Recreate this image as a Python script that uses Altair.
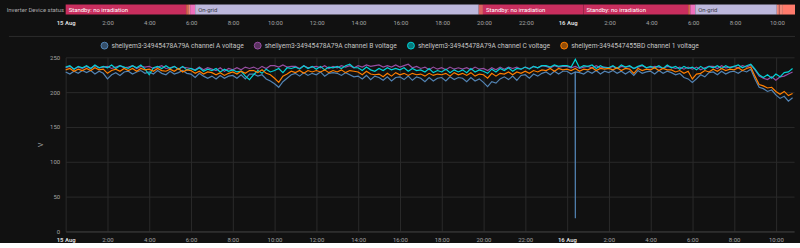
import altair as alt
import pandas as pd

# ---------------- timeline (Inverter Device status) ----------------
seg_start = [0.0, 5.76, 5.86, 5.95, 6.19, 19.75, 19.95, 24.76, 29.76, 29.86, 30.10, 34.00, 34.10, 34.14, 34.29]
seg_end = [5.76, 5.86, 5.95, 6.19, 19.75, 19.95, 24.76, 29.76, 29.86, 30.10, 34.00, 34.10, 34.14, 34.29, 34.87]
seg_state = ["Standby: no irradiation", "s1", "s2", "s3", "On-grid", "s4",
             "Standby: no irradiation", "Standby: no irradiation", "s1", "s3",
             "On-grid", "s2", "s4", "s2", "s5"]
seg_label = ["Standby: no irradiation", "", "", "", "On-grid", "",
             "Standby: no irradiation", "Standby: no irradiation", "", "",
             "On-grid", "", "", "", ""]
state_names = ["Standby: no irradiation", "On-grid", "s1", "s2", "s3", "s4", "s5"]
state_colors = ["#c92e5e", "#bdb8dc", "#d8644e", "#f0897a", "#ee70bd", "#dc6262", "#ff7b6c"]

# ---------------- voltages (every 12 minutes from 15 Aug 00:00) ----------------
volt_a = [
    229, 226, 230, 227, 231,  228, 231, 226, 230, 227,  219, 225, 228, 224, 229,
    230, 226, 229, 231, 227,  229, 226, 231, 227, 225,  230, 226, 228, 231, 227,
    226, 221, 227, 223, 220,  223, 219, 224, 220, 223,  224, 220, 225, 219, 226,
    226, 223, 225, 219, 216,  212, 207, 215, 220, 225,  227, 223, 228, 224, 227,
    225, 229, 223, 227, 228,  227, 224, 228, 225, 222,  223, 219, 224, 218, 223,
    221, 217, 222, 216, 221,  222, 218, 223, 217, 222,  220, 215, 221, 216, 220,
    221, 216, 222, 218, 221,  220, 215, 221, 216, 219,  214, 208, 215, 213, 219,
    222, 218, 223, 217, 224,  225, 220, 226, 223, 227,  229, 225, 230, 226, 230,
    230, 226, 229, 228, 226,  230, 227, 231, 226, 230,  228, 231, 227, 230, 226,
    230, 224, 231, 227, 229,  230, 226, 231, 227, 230,  228, 225, 227, 221, 219,
    214, 219, 225, 222, 228,  229, 225, 230, 226, 229,  230, 227, 231, 229, 233,
    219, 207, 205, 201, 203,  196, 191, 194, 187, 192,
]
# short sensor glitch of channel A just after midnight of 16 Aug
glitch_t = [24.39, 24.40, 24.41]
glitch_v = [229, 19, 229]

volt_b = [
    235, 237, 233, 236, 234,  237, 234, 238, 235, 236,  237, 234, 236, 238, 235,
    236, 238, 234, 237, 236,  237, 234, 236, 238, 234,  235, 237, 233, 236, 235,
    234, 232, 236, 232, 235,  233, 231, 235, 230, 234,  232, 235, 232, 236, 234,
    236, 233, 237, 234, 238,  238, 236, 239, 236, 237,  237, 234, 238, 235, 236,
    237, 235, 238, 234, 237,  235, 238, 236, 238, 235,  238, 236, 239, 237, 238,
    239, 236, 238, 236, 239,  236, 238, 240, 235, 237,  234, 236, 232, 236, 233,
    235, 232, 236, 233, 235,  233, 235, 232, 236, 233,  234, 231, 235, 232, 236,
    233, 236, 234, 236, 233,  236, 234, 237, 235, 238,  237, 235, 238, 236, 237,
    237, 235, 237, 234, 236,  237, 235, 238, 235, 236,  235, 237, 234, 237, 236,
    237, 234, 236, 238, 235,  235, 237, 236, 234, 237,  236, 234, 236, 233, 236,
    233, 236, 232, 235, 237,  237, 234, 238, 235, 236,  237, 235, 238, 236, 239,
    232, 223, 220, 218, 222,  217, 222, 223, 226, 229,
]
volt_c = [
    236, 238, 233, 237, 235,  238, 234, 239, 235, 237,  235, 239, 234, 238, 236,
    234, 238, 235, 239, 233,  225, 235, 237, 234, 238,  234, 237, 233, 237, 232,
    234, 231, 235, 230, 233,  231, 234, 229, 233, 230,  232, 229, 230, 223, 218,
    225, 231, 227, 233, 229,  231, 234, 228, 235, 234,  236, 233, 238, 234, 237,
    233, 237, 232, 236, 235,  237, 234, 238, 240, 235,  235, 231, 236, 232, 230,
    234, 231, 235, 232, 234,  232, 235, 230, 234, 231,  232, 229, 234, 228, 231,
    229, 233, 228, 232, 229,  232, 228, 234, 229, 232,  230, 227, 233, 229, 234,
    231, 235, 230, 234, 233,  236, 233, 237, 235, 238,  238, 236, 239, 237, 238,
    238, 236, 247, 235, 238,  237, 239, 234, 238, 235,  235, 238, 234, 239, 236,
    238, 234, 237, 239, 235,  237, 235, 238, 234, 239,  235, 237, 233, 237, 234,
    236, 232, 237, 233, 237,  235, 238, 234, 238, 235,  237, 239, 235, 238, 240,
    233, 225, 221, 225, 220,  226, 222, 228, 229, 234,
]
volt_1 = [
    232, 234, 230, 233, 231,  234, 231, 235, 232, 233,  227, 231, 233, 230, 234,
    231, 234, 230, 234, 232,  233, 230, 234, 231, 230,  233, 230, 234, 229, 232,
    231, 227, 230, 226, 229,  228, 225, 228, 224, 227,  229, 226, 230, 227, 231,
    231, 228, 232, 227, 225,  220, 214, 223, 226, 230,  228, 231, 227, 231, 229,
    231, 229, 232, 228, 231,  229, 232, 228, 231, 230,  229, 225, 230, 226, 225,
    226, 222, 227, 223, 228,  225, 227, 224, 227, 225,  226, 223, 227, 224, 226,
    225, 227, 223, 228, 225,  227, 224, 228, 223, 226,  225, 220, 227, 223, 227,
    226, 229, 225, 229, 227,  230, 227, 231, 229, 232,  231, 234, 230, 234, 232,
    233, 231, 234, 230, 233,  232, 235, 231, 234, 233,  234, 232, 235, 231, 234,
    233, 227, 234, 231, 233,  232, 235, 231, 234, 232,  232, 229, 231, 227, 230,
    219, 226, 227, 231, 229,  233, 230, 234, 231, 233,  232, 235, 231, 234, 236,
    223, 211, 209, 206, 207,  201, 197, 201, 195, 198,
]
series_names = [
    "shellyem3-34945478A79A channel A voltage",
    "shellyem3-34945478A79A channel B voltage",
    "shellyem3-34945478A79A channel C voltage",
    "shellyem-3494547455BD channel 1 voltage",
]
series_colors = ["#5384b4", "#984ea3", "#00d2d5", "#ff7f00"]
hour_ticks = list(range(0, 35, 2))

X_MAX = 34.87
times = [round(i * 0.2, 1) for i in range(len(volt_a))]

rows = []
for name, vals in zip(series_names, [volt_a, volt_b, volt_c, volt_1]):
    pts = list(zip(times, vals))
    if name == series_names[0]:
        pts = sorted(pts + list(zip(glitch_t, glitch_v)))
    for t, v in pts:
        rows.append({"t": t, "v": v, "series": name})
df_lines = pd.DataFrame(rows)

state_color_map = dict(zip(state_names, state_colors))
df_seg = pd.DataFrame({
    "start": seg_start, "end": seg_end, "state": seg_state, "label": seg_label,
    "fillc": [state_color_map[s] for s in seg_state],
    "row": ["Inverter Device status"] * len(seg_start),
})

FONT = "Roboto"
label_expr = ("datum.value % 24 === 0 ? (datum.value === 0 ? '15 Aug' : '16 Aug') "
              ": (datum.value % 24) + ':00'")
weight_cond = {"condition": {"test": "datum.value % 24 === 0", "value": "bold"}, "value": "normal"}
color_cond = {"condition": {"test": "datum.value % 24 === 0", "value": "#d6d6d6"}, "value": "#a3a3a3"}


def x_axis(grid):
    return alt.Axis(values=hour_ticks, labelExpr=label_expr, labelFontWeight=weight_cond,
                    labelColor=color_cond, labelFontSize=6, labelFont=FONT, tickSize=0,
                    labelPadding=5, grid=grid, gridColor="#2a2a2a", domain=grid,
                    domainColor="#3a3a3a", title=None, labelFlush=False, labelOverlap=False)


xscale = alt.Scale(domain=[0, X_MAX], nice=False, zero=False)

bars = alt.Chart(df_seg).mark_bar(size=10).encode(
    x=alt.X("start:Q", scale=xscale, axis=x_axis(False)),
    x2="end:Q",
    y=alt.Y("row:N", axis=alt.Axis(title=None, ticks=False, domain=False, labelFontSize=6,
                                   labelFont=FONT, labelColor="#a8a8a8", labelPadding=2)),
    fill=alt.Fill("fillc:N", scale=None),
)
texts = alt.Chart(df_seg).mark_text(align="left", baseline="middle", dx=3, fontSize=6,
                                    font=FONT).encode(
    x=alt.X("start:Q", scale=xscale),
    y=alt.Y("row:N"),
    text="label:N",
    fill=alt.condition(alt.datum.state == "On-grid", alt.value("#3b3b4a"), alt.value("#ffffff")),
)
timeline = alt.layer(bars, texts).properties(width=733, height=10)

sym_fill = ("'rgba(' + rgb(scale('color', datum.value)).r + ',' + "
            "rgb(scale('color', datum.value)).g + ',' + "
            "rgb(scale('color', datum.value)).b + ',0.55)'")

lines = alt.Chart(df_lines).mark_line(strokeWidth=1.2).encode(
    x=alt.X("t:Q", scale=xscale, axis=x_axis(True)),
    y=alt.Y("v:Q", scale=alt.Scale(domain=[0, 250], nice=False),
            axis=alt.Axis(values=[0, 50, 100, 150, 200, 250], title="V", titleFontSize=7,
                          titleFontWeight="normal", titleColor="#a3a3a3", titleFont=FONT,
                          titlePadding=6, labelFontSize=6, labelFont=FONT,
                          labelColor="#a3a3a3", tickSize=0, labelPadding=6, domain=False,
                          gridColor="#2a2a2a")),
    color=alt.Color("series:N", scale=alt.Scale(domain=series_names, range=series_colors),
                    sort=series_names,
                    legend=alt.Legend(title=None, orient="none", direction="horizontal",
                                      legendX=35, legendY=-16, symbolType="circle",
                                      symbolSize=48, symbolStrokeWidth=1, labelFontSize=6.7,
                                      labelFont=FONT, labelColor="#c4c4c4", columnPadding=8,
                                      labelOffset=3, labelLimit=400,
                                      symbolFillColor=alt.ExprRef(sym_fill))),
    order=alt.Order("series:N"),
)
divider = alt.Chart(df_lines).mark_rule(color="#2c2c2c", strokeWidth=1).encode(
    x=alt.value(-57), x2=alt.value(733), y=alt.value(-21)
).transform_filter("datum.t === 0 && datum.series === '" + series_names[0] + "'")

lines_chart = alt.layer(divider, lines).properties(width=732, height=175)

chart = alt.vconcat(timeline, lines_chart, spacing=10).resolve_legend(
    color="independent"
).configure(
    background="#111111",
    padding={"left": 6, "top": 4, "right": 4, "bottom": 0},
    font=FONT,
).configure_view(stroke=None)

chart.save("out.html", embed_options={"renderer": "svg", "actions": False})
